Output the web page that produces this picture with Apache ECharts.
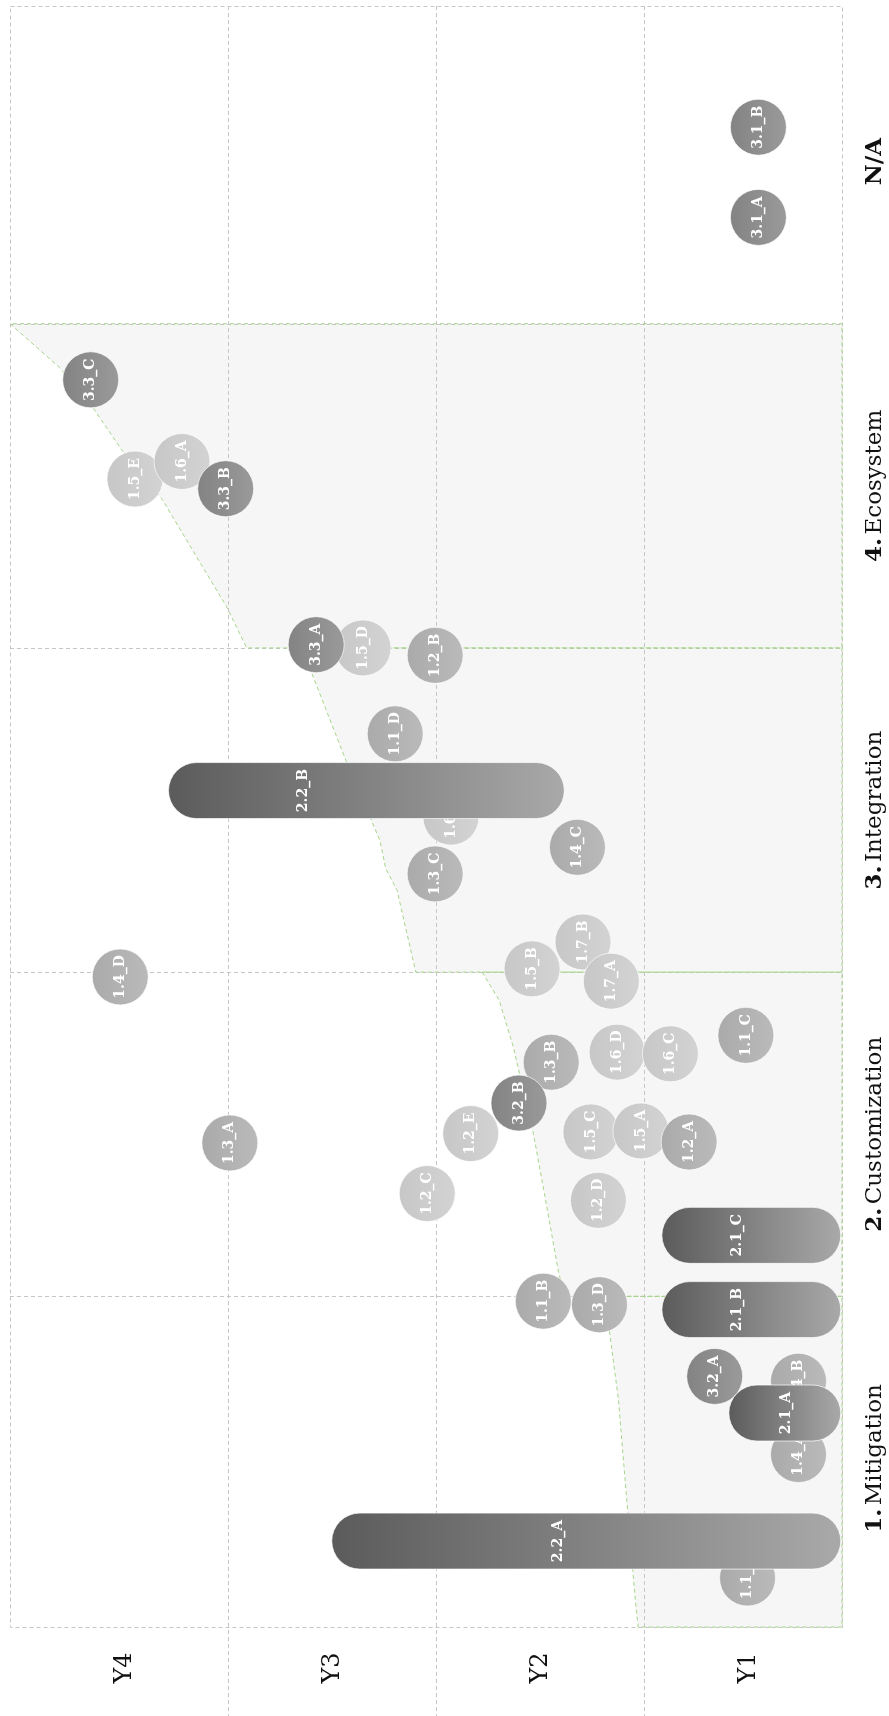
<!DOCTYPE html>
<html>
<head>
<meta charset="utf-8">
<script src="https://cdn.jsdelivr.net/npm/echarts@6/dist/echarts.min.js"></script>
<style>
  html, body { margin: 0; padding: 0; background: #ffffff; }
  #chart { width: 889px; height: 1716px; }
</style>
</head>
<body>
<div id="chart"></div>
<script>
// ---- axes -------------------------------------------------------------
const yearTicks = [1, 2, 3, 4];
const yearNames = ['Y1', 'Y2', 'Y3', 'Y4'];
const yearBreaks = [1.5, 2.5, 3.5];
const yearRange = [0.55, 4.55];

const stageTicks = [0, 1, 2, 3, 4];
const stageNumbers = ['1.', '2.', '3.', '4.', ''];
const stageNames = ['Mitigation', 'Customization', 'Integration', 'Ecosystem', 'N/A'];
const stageBreaks = [0.5, 1.5, 2.5, 3.5];
const stageRange = [-0.52, 4.48];

// ---- readiness envelope of each stage: [year, stage position], top to bottom
const mitigationEdge = [[1.689, 0.5], [1.667, 0.387], [1.625, 0.182], [1.585, -0.126], [1.544, -0.434], [1.530, -0.52]];
const customizationEdge = [[2.280, 1.5], [2.198, 1.413], [2.130, 1.269], [2.034, 1.003], [1.981, 0.818], [1.912, 0.571], [1.880, 0.5]];
const integrationEdge = [[3.150, 2.5], [3.098, 2.420], [2.935, 2.153], [2.813, 1.968], [2.771, 1.906], [2.744, 1.820], [2.689, 1.752], [2.599, 1.5]];
const ecosystemEdge = [[4.55, 3.5], [4.312, 3.365], [4.148, 3.238], [4.011, 3.109], [3.821, 2.961], [3.507, 2.625], [3.412, 2.5]];

// ---- items: [id, year, stage position] ---------------------------------
const tierBItems = [
  ['1.5_E', 3.949, 3.021], ['1.6_A', 3.723, 3.075], ['1.5_D', 2.853, 2.500],
  ['1.6_B', 2.430, 1.978], ['1.5_B', 2.040, 1.510], ['1.7_B', 1.795, 1.593],
  ['1.7_A', 1.659, 1.472], ['1.6_D', 1.631, 1.253], ['1.6_C', 1.375, 1.248],
  ['1.2_E', 2.335, 1.002], ['1.5_C', 1.757, 1.007], ['1.5_A', 1.517, 1.010],
  ['1.2_C', 2.544, 0.817], ['1.2_D', 1.721, 0.796]
];
const tierAItems = [
  ['1.2_B', 2.506, 2.477], ['1.1_D', 2.698, 2.235], ['1.4_C', 1.822, 1.885],
  ['1.3_C', 2.506, 1.803], ['1.4_D', 4.020, 1.485], ['1.1_C', 1.012, 1.305],
  ['1.3_B', 1.948, 1.222], ['1.2_A', 1.285, 0.976], ['1.3_A', 3.493, 0.973],
  ['1.1_B', 1.986, 0.485], ['1.3_D', 1.716, 0.474], ['1.4_B', 0.759, 0.238],
  ['1.4_A', 0.759, 0.012], ['1.1_A', 1.004, -0.369]
];
const tierCItems = [
  ['3.1_B', 0.952, 4.106], ['3.1_A', 0.952, 3.828], ['3.3_C', 4.162, 3.327],
  ['3.3_B', 3.513, 2.991], ['3.3_A', 3.078, 2.510], ['3.2_B', 2.103, 1.096],
  ['3.2_A', 1.162, 0.253]
];
// spans: [id, stage position, from year, to year, year of the label]
const spans = [
  ['2.2_B', 2.060, 1.885, 3.788, 3.139],
  ['2.1_C', 0.688, 0.556, 1.416, 1.053],
  ['2.1_B', 0.459, 0.556, 1.416, 1.053],
  ['2.1_A', 0.140, 0.556, 1.094, 0.817],
  ['2.2_A', -0.255, 0.556, 3.003, 1.912]
];

// ---- styling ------------------------------------------------------------
const serif = '"DejaVu Serif", "Liberation Serif", serif';
const GRID_GREY = '#c6c6c6';
const EDGE_GREEN = '#a6d689';
const DASH = [4, 3];
const BUBBLE = 56;

function hGrad(c0, c1) {
  return new echarts.graphic.LinearGradient(0, 0, 1, 0, [
    { offset: 0, color: c0 }, { offset: 1, color: c1 }
  ]);
}

function bubbleSeries(name, items, c0, c1, z) {
  return {
    type: 'scatter',
    name: name,
    z: z,
    symbol: 'circle',
    symbolSize: BUBBLE,
    silent: true,
    data: items.map(d => ({ name: d[0], value: [d[1], d[2]] })),
    itemStyle: { color: hGrad(c0, c1), borderColor: 'rgba(255,255,255,0.65)', borderWidth: 1, opacity: 1 },
    label: {
      show: true, position: 'inside', rotate: 90,
      formatter: p => p.name,
      color: '#ffffff', fontFamily: serif, fontWeight: 'bold', fontSize: 14
    },
    emphasis: { disabled: true }
  };
}

const stageEdges = [mitigationEdge, customizationEdge, integrationEdge, ecosystemEdge];

function envelopePoints(api, edge) {
  const pts = edge.map(p => api.coord([Math.min(p[0], yearRange[1]), p[1]]));
  pts.push(api.coord([yearRange[0], edge[edge.length - 1][1]]));
  pts.push(api.coord([yearRange[0], edge[0][1]]));
  return pts;
}

const chart = echarts.init(document.getElementById('chart'), null, { renderer: 'canvas' });

chart.setOption({
  animation: false,
  backgroundColor: '#ffffff',
  grid: { left: 10, right: 47, top: 6, bottom: 89, containLabel: false },
  xAxis: {
    type: 'value',
    inverse: true,
    min: yearRange[0],
    max: yearRange[1],
    position: 'bottom',
    axisLine: { show: false },
    axisTick: { show: false },
    splitLine: { show: false },
    axisLabel: {
      customValues: yearTicks,
      formatter: v => yearNames[yearTicks.indexOf(Math.round(v))] || '',
      rotate: 90,
      margin: 41,
      align: 'center',
      verticalAlign: 'middle',
      color: '#111111',
      fontFamily: serif,
      fontSize: 24
    }
  },
  yAxis: {
    type: 'value',
    min: stageRange[0],
    max: stageRange[1],
    position: 'right',
    axisLine: { show: false },
    axisTick: { show: false },
    splitLine: { show: false },
    axisLabel: {
      customValues: stageTicks,
      formatter: v => {
        const i = Math.round(v);
        return stageNumbers[i]
          ? '{b|' + stageNumbers[i] + '} {n|' + stageNames[i] + '}'
          : '{b|' + stageNames[i] + '}';
      },
      rotate: 90,
      margin: 33,
      align: 'center',
      verticalAlign: 'middle',
      rich: {
        b: { fontFamily: serif, fontWeight: 'bold', fontSize: 23, color: '#111111' },
        n: { fontFamily: serif, fontWeight: 'normal', fontSize: 23, color: '#111111' }
      }
    }
  },
  series: [
    // shaded envelope of each stage
    {
      type: 'custom', z: 1, silent: true,
      data: stageEdges.map((e, i) => [e[0][0], e[0][1]]),
      renderItem: (params, api) => ({
        type: 'polygon',
        shape: { points: envelopePoints(api, stageEdges[params.dataIndex]) },
        style: { fill: '#f6f6f6', stroke: 'none' }
      })
    },
    // dashed grid, frame and year dividers
    {
      type: 'custom', z: 2, silent: true, clip: false,
      data: [[1, 1]],
      renderItem: (params, api) => {
        const st = { stroke: GRID_GREY, lineWidth: 1, lineDash: DASH, fill: 'none' };
        const tl = api.coord([yearRange[1], stageRange[1]]);
        const br = api.coord([yearRange[0], stageRange[0]]);
        const children = [];
        yearBreaks.forEach(t => {
          const x = Math.round(api.coord([t, 0])[0]) + 0.5;
          children.push({ type: 'line', shape: { x1: x, y1: tl[1], x2: x, y2: api.getHeight() }, style: st });
        });
        stageBreaks.forEach(v => {
          const y = Math.round(api.coord([1, v])[1]) + 0.5;
          children.push({ type: 'line', shape: { x1: tl[0], y1: y, x2: br[0], y2: y }, style: st });
        });
        children.push({
          type: 'rect',
          shape: { x: Math.round(tl[0]) + 0.5, y: Math.round(tl[1]) + 0.5, width: Math.round(br[0] - tl[0]), height: Math.round(br[1] - tl[1]) },
          style: st
        });
        return { type: 'group', children: children };
      }
    },
    // green dashed outline of each envelope
    {
      type: 'custom', z: 3, silent: true,
      data: stageEdges.map((e, i) => [e[0][0], e[0][1]]),
      renderItem: (params, api) => ({
        type: 'polygon',
        shape: { points: envelopePoints(api, stageEdges[params.dataIndex]) },
        style: { fill: 'none', stroke: EDGE_GREEN, lineWidth: 1, lineDash: DASH }
      })
    },
    bubbleSeries('tier B', tierBItems, '#c7c7c7', '#d3d3d3', 4),
    bubbleSeries('tier A', tierAItems, '#aaaaaa', '#bababa', 5),
    bubbleSeries('tier C', tierCItems, '#838383', '#9a9a9a', 6),
    // multi-year spans
    {
      type: 'custom', z: 7, silent: true, clip: false,
      data: spans.map(s => [s[2], s[1], s[3]]),
      renderItem: (params, api) => {
        const s = spans[params.dataIndex];
        const a = api.coord([s[2], s[1]]);
        const b = api.coord([s[3], s[1]]);
        const lp = api.coord([s[4], s[1]]);
        const h = BUBBLE;
        const x0 = Math.min(a[0], b[0]);
        const w = Math.abs(a[0] - b[0]);
        return {
          type: 'group',
          children: [
            {
              type: 'rect',
              shape: { x: x0, y: a[1] - h / 2, width: w, height: h, r: h / 2 },
              style: { fill: hGrad('#5b5b5b', '#a9a9a9'), stroke: 'rgba(255,255,255,0.7)', lineWidth: 1 }
            },
            {
              type: 'text',
              x: lp[0], y: lp[1], rotation: Math.PI / 2,
              style: {
                text: s[0], fill: '#ffffff',
                font: 'bold 14px ' + serif,
                align: 'center', verticalAlign: 'middle'
              }
            }
          ]
        };
      }
    }
  ]
});
</script>
</body>
</html>
